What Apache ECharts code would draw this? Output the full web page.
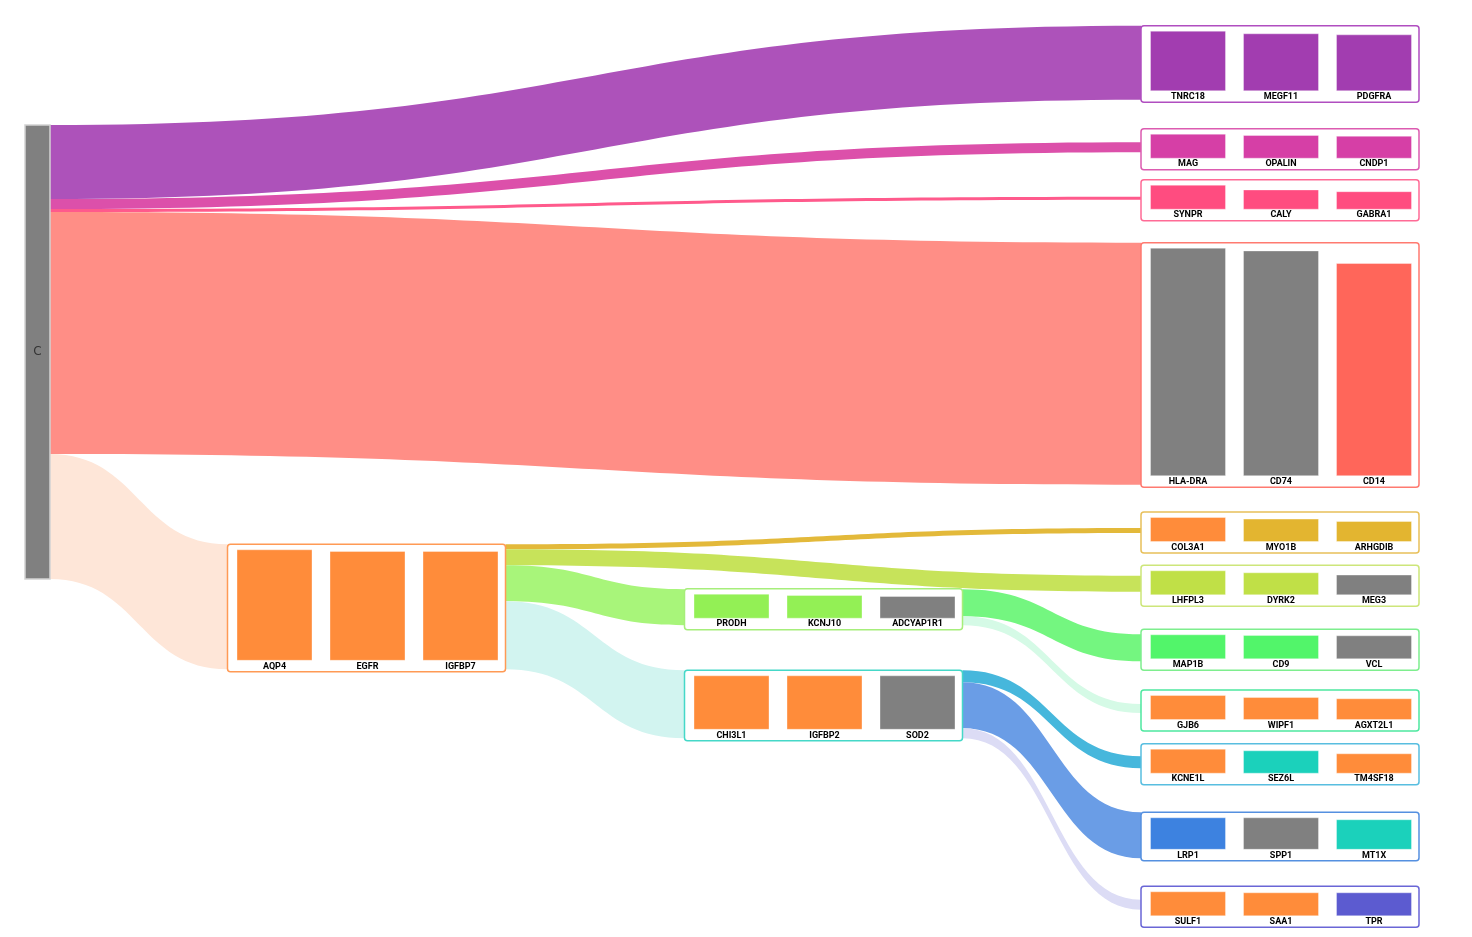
<!DOCTYPE html>
<html><head><meta charset="utf-8">
<script src="https://cdn.jsdelivr.net/npm/echarts@6/dist/echarts.min.js"></script>
<style>html,body{margin:0;padding:0;background:#fff}#main{width:1472px;height:937px}</style>
</head><body><div id="main"></div>
<script>
// ================= DATA =================
const rootName = 'C';
const clusterNames = ['AQP4','PRODH','CHI3L1','TNRC18','MAG','SYNPR','HLA-DRA','COL3A1','LHFPL3','MAP1B','GJB6','KCNE1L','LRP1','SULF1'];
const clusterGenes = [
  ['AQP4','EGFR','IGFBP7'],
  ['PRODH','KCNJ10','ADCYAP1R1'],
  ['CHI3L1','IGFBP2','SOD2'],
  ['TNRC18','MEGF11','PDGFRA'],
  ['MAG','OPALIN','CNDP1'],
  ['SYNPR','CALY','GABRA1'],
  ['HLA-DRA','CD74','CD14'],
  ['COL3A1','MYO1B','ARHGDIB'],
  ['LHFPL3','DYRK2','MEG3'],
  ['MAP1B','CD9','VCL'],
  ['GJB6','WIPF1','AGXT2L1'],
  ['KCNE1L','SEZ6L','TM4SF18'],
  ['LRP1','SPP1','MT1X'],
  ['SULF1','SAA1','TPR']
];
// relative marker scores (normalised to the top gene of each cluster)
const clusterGeneScores = [
  [1.00, 0.985, 0.985],
  [1.00, 0.947, 0.907],
  [1.00, 1.00, 1.00],
  [1.00, 0.957, 0.940],
  [1.00, 0.947, 0.918],
  [1.00, 0.810, 0.740],
  [1.00, 0.988, 0.933],
  [1.00, 0.936, 0.840],
  [1.00, 0.920, 0.830],
  [1.00, 0.976, 0.960],
  [1.00, 0.920, 0.870],
  [1.00, 0.936, 0.816],
  [1.00, 1.00, 0.940],
  [1.00, 0.960, 0.960]
];
const linkSources = ['C','C','C','C','C','AQP4','AQP4','AQP4','AQP4','PRODH','PRODH','CHI3L1','CHI3L1','CHI3L1'];
const linkTargets = ['TNRC18','MAG','SYNPR','HLA-DRA','AQP4','COL3A1','LHFPL3','PRODH','CHI3L1','MAP1B','GJB6','KCNE1L','LRP1','SULF1'];
const linkValues  = [74, 10, 3, 242, 125, 5, 16, 36, 68, 27, 9, 12, 46, 10];

// ================= STYLE / LAYOUT =================
const W = 1472;
const BOX_W = 278;
const ROOT_LEFT = 25, ROOT_TOP = 125, ROOT_W = 25;
const clusterBoxLeft = [227.5, 684.5, 684.5, 1141,1141,1141,1141,1141,1141,1141,1141,1141,1141,1141];
const clusterBoxTop  = [544.3, 588.7, 670.3, 25.7, 128.7, 179.7, 242.7, 512, 565.3, 629.3, 690, 743.7, 812.3, 886.3];
const clusterBorderColors = ['#FF9A55','#A6EE7A','#45D8C8','#B04EC0','#DC5BB0','#FF6B96','#FF7A70','#E8C05A','#CDE67A','#7EEE8E','#4EE8A0','#58BEE0','#5590E0','#6A66D6'];
const GRAY = '#808080', ORANGE = '#FF8C3A';
const geneBarColors = [
  [ORANGE, ORANGE, ORANGE],
  ['#93F055','#93F055', GRAY],
  [ORANGE, ORANGE, GRAY],
  ['#A23DB0','#A23DB0','#A23DB0'],
  ['#D63FA6','#D63FA6','#D63FA6'],
  ['#FF4C80','#FF4C80','#FF4C80'],
  [GRAY, GRAY, '#FF665A'],
  [ORANGE, '#E3B530', '#E3B530'],
  ['#C0E047','#C0E047', GRAY],
  ['#52F56A','#52F56A', GRAY],
  [ORANGE, ORANGE, ORANGE],
  [ORANGE, '#1BD1BB', ORANGE],
  ['#3D82E0', GRAY, '#1BD1BB'],
  [ORANGE, ORANGE, '#5C5BD0']
];
const linkColors = ['#AD52BA','#DC50AA','#FF5A8C','#FF8E86','#FEE6D8','#E3B93A','#C7E35A','#A8F57A','#D2F4F0','#74F680','#D5FAE6','#46B7DC','#6A9DE6','#DCDCF5'];

// ================= BUILD =================
const ci = n => clusterNames.indexOf(n);
function nodeValue(name) {
  let a = 0, b = 0;
  linkValues.forEach((v, i) => { if (linkSources[i] === name) a += v; if (linkTargets[i] === name) b += v; });
  return Math.max(a, b);
}
function boxHeight(name) { return Math.max(nodeValue(name) + 2.5, 41); }
function flowTop(name) {
  if (name === rootName) return ROOT_TOP;
  const h = boxHeight(name), v = nodeValue(name);
  return clusterBoxTop[ci(name)] + Math.max(0, (h - v) / 2 - 2);
}

const sources = [];
linkSources.forEach(s => { if (sources.indexOf(s) < 0) sources.push(s); });

const series = [];
sources.forEach(src => {
  const idx = [];
  linkSources.forEach((s, i) => { if (s === src) idx.push(i); });
  const S = idx.reduce((a, i) => a + linkValues[i], 0);
  const isRoot = src === rootName;
  const srcX = isRoot ? ROOT_LEFT : clusterBoxLeft[ci(src)] + BOX_W - 1;
  const nodes = [{
    name: src,
    localX: srcX / W,
    localY: flowTop(src) / S,
    itemStyle: isRoot ? { color: '#808080', borderColor: '#d2d2d2', borderWidth: 1.5 } : { opacity: 0 },
    label: isRoot ? { show: true, position: 'inside', color: '#333', fontSize: 12, fontFamily: 'DejaVu Sans' } : { show: false }
  }];
  idx.forEach(i => {
    const t = linkTargets[i];
    nodes.push({ name: t, localX: clusterBoxLeft[ci(t)] / W, localY: flowTop(t) / S, itemStyle: { opacity: 0 }, label: { show: false } });
  });
  series.push({
    type: 'sankey', left: 0, top: 0, width: W, height: S,
    nodeWidth: isRoot ? ROOT_W : 1, nodeGap: 0, layoutIterations: 0,
    draggable: false, silent: true, z: 2,
    label: { show: false },
    emphasis: { disabled: true },
    data: nodes,
    links: idx.map(i => ({ source: linkSources[i], target: linkTargets[i], value: linkValues[i],
      lineStyle: { color: linkColors[i], opacity: 1, curveness: 0.5 } }))
  });
});

const grids = [], xAxes = [], yAxes = [], graphics = [];
clusterNames.forEach((name, k) => {
  const h = boxHeight(name);
  graphics.push({
    type: 'rect', z: 10, silent: true,
    shape: { x: clusterBoxLeft[k], y: clusterBoxTop[k], width: BOX_W, height: h, r: 3 },
    style: { fill: '#fff', stroke: clusterBorderColors[k], lineWidth: 1.5 }
  });
  grids.push({ left: clusterBoxLeft[k] + 0.5, top: clusterBoxTop[k] + 5, width: 279, height: h - 16 });
  xAxes.push({
    gridIndex: k, type: 'category', data: clusterGenes[k], z: 30,
    axisLine: { show: false }, axisTick: { show: false }, splitLine: { show: false },
    axisLabel: { interval: 0, margin: 1, fontSize: 9, fontWeight: 'bold', color: '#000', fontFamily: 'Roboto' }
  });
  yAxes.push({ gridIndex: k, type: 'value', show: false, min: 0, max: 'dataMax' });
  series.push({
    type: 'bar', xAxisIndex: k, yAxisIndex: k, barWidth: 76, z: 20, silent: true,
    data: clusterGeneScores[k].map((v, j) => ({ value: v, itemStyle: { color: geneBarColors[k][j], borderColor: 'rgba(255,255,255,0.35)', borderWidth: 1 } }))
  });
});

const chart = echarts.init(document.getElementById('main'), null, { renderer: 'canvas' });
chart.setOption({
  animation: false,
  backgroundColor: '#fff',
  grid: grids, xAxis: xAxes, yAxis: yAxes,
  graphic: { elements: graphics },
  series: series
});
</script></body></html>
